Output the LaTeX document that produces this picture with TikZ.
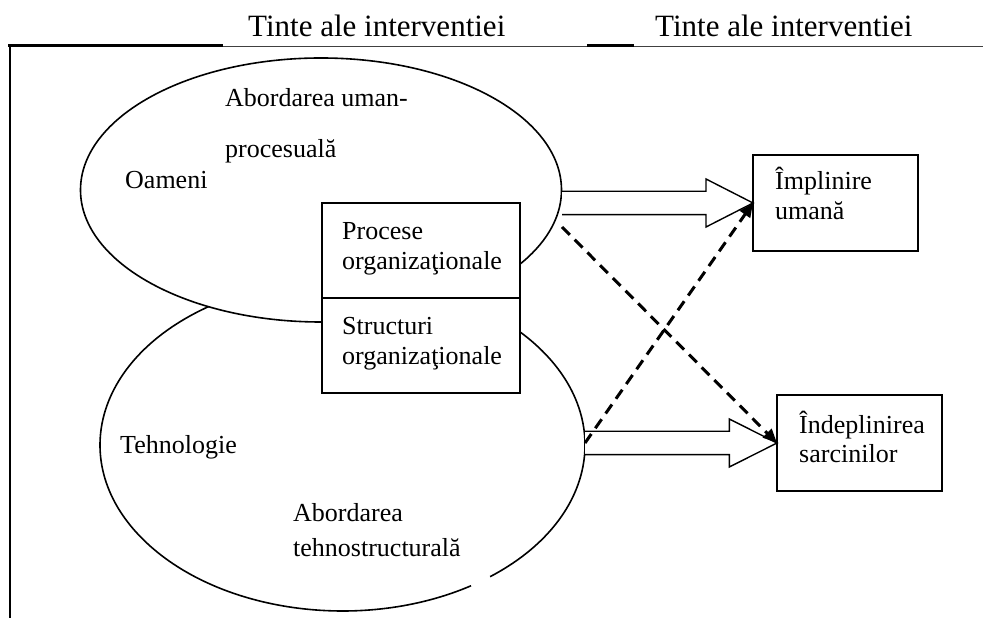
\documentclass[tikz,border=0pt]{standalone}
\usepackage{fontspec}
\setmainfont{Liberation Serif}
\usetikzlibrary{arrows.meta,calc,shapes.geometric}
\begin{document}
\begin{tikzpicture}[x=1pt,y=1pt,
  txt/.style={anchor=base west,inner sep=0pt,font=\fontsize{26}{30}\selectfont},
  hdr/.style={anchor=base west,inner sep=0pt,font=\fontsize{31}{36}\selectfont},
  outline/.style={line width=1.6pt},
  boxst/.style={draw,line width=1.6pt,fill=white,inner sep=0pt,outer sep=0pt,anchor=north west},
  blk/.style={draw,line width=1.4pt,fill=white,line join=miter},
  dsh/.style={line width=3pt,dash pattern=on 11pt off 7pt,-{Triangle[length=14pt,width=12pt]}}
]
\useasboundingbox (0,0) rectangle (983,618);
% header rules
\draw[line width=1pt,black!75] (9,571) -- (983,571);
\draw[line width=2.4pt] (8,572.5) -- (223,572.5);
\draw[line width=2.4pt] (587,572.5) -- (634,572.5);
\draw[line width=2pt] (9.5,573.5) -- (9.5,0);
% bottom ellipse (with small gap)
\coordinate (tc) at (342.5,173);
\draw[outline] (tc) ++(-52.5:242.5 and 166) arc[start angle=-52.5, end angle=302, x radius=242.5, y radius=166];
% top ellipse
\node[ellipse,draw,outline,fill=white,minimum width=481pt,minimum height=264pt,inner sep=0pt] (oam) at (321,428) {};
% central rectangle
\node[boxst,minimum width=198.3pt,minimum height=95pt] (proc) at (321.7,414.7) {};
\node[boxst,minimum width=198.3pt,minimum height=94.7pt] (stru) at (proc.south west) {};
% target boxes
\node[boxst,minimum width=165pt,minimum height=96pt] (b1) at (753,463) {};
\node[boxst,minimum width=165pt,minimum height=96pt] (b2) at (777,223) {};
% block arrows
\coordinate (s1) at (562,415);
\coordinate (s2) at (585,175);
\draw[blk] ($(s1)+(0,11.7)$) -- ($(b1.west)+(-47,11.7)$) -- ($(b1.west)+(-47,24)$) -- (b1.west) -- ($(b1.west)+(-47,-24)$) -- ($(b1.west)+(-47,-11.7)$) -- ($(s1)+(0,-11.7)$);
\draw[blk] ($(s2)+(0,11.7)$) -- ($(b2.west)+(-47.7,11.7)$) -- ($(b2.west)+(-47.7,24)$) -- (b2.west) -- ($(b2.west)+(-47.7,-24)$) -- ($(b2.west)+(-47.7,-11.7)$) -- ($(s2)+(0,-11.7)$);
% dashed cross arrows
\coordinate (dA) at (562,391);
\draw[dsh] (dA) -- (b2.west);
\draw[dsh] (s2) -- (b1.west);
% texts
\node[hdr] (h1) at (248,581.5) {Tinte ale interventiei};
\node[hdr] (h2) at (655,581.5) {Tinte ale interventiei};
\node[txt] (a1) at (225,511) {Abordarea uman-};
\node[txt] (a2) at (225,460) {procesuală};
\node[txt] (om) at (125,429) {Oameni};
\node[txt] (pr1) at (342,378) {Procese};
\node[txt] (pr2) at (342,348) {organizaţionale};
\node[txt] (st1) at (342,283) {Structuri};
\node[txt] (st2) at (342,253) {organizaţionale};
\node[txt] (teh) at (120,164) {Tehnologie};
\node[txt] (ab1) at (293,96) {Abordarea};
\node[txt] (ab2) at (293,61) {tehnostructurală};
\node[txt] (im1) at (775,428) {Împlinire};
\node[txt] (im2) at (775,398) {umană};
\node[txt] (in1) at (799,184) {Îndeplinirea};
\node[txt] (in2) at (799,155) {sarcinilor};
\end{tikzpicture}
\end{document}
